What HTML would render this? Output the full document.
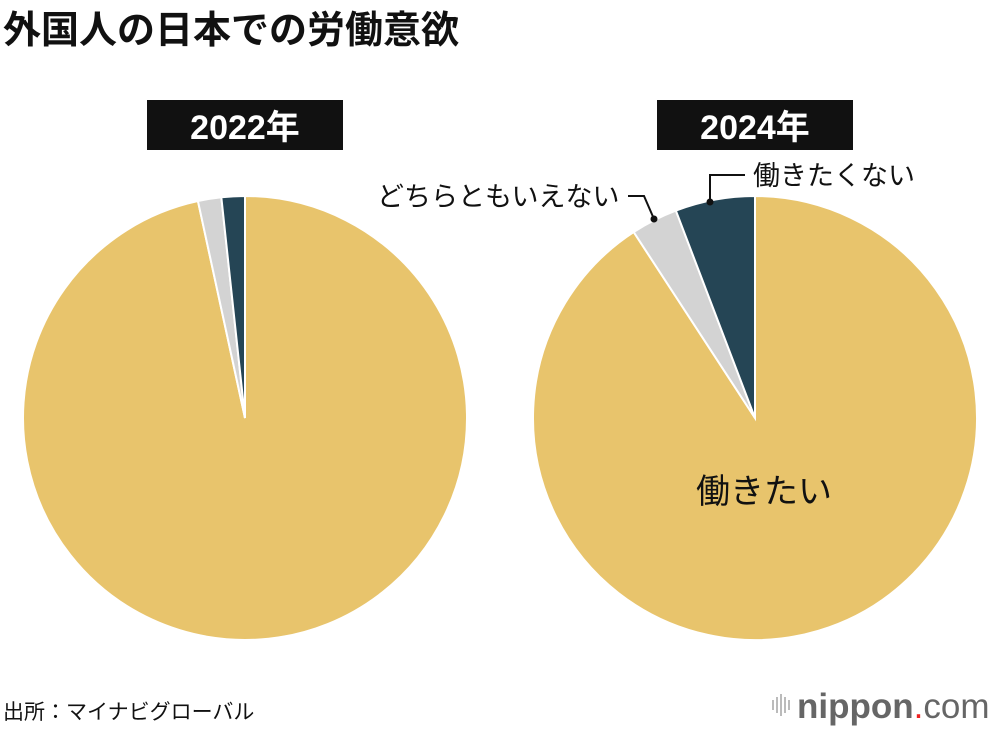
<!DOCTYPE html>
<html><head><meta charset="utf-8">
<style>
body{margin:0;width:1000px;height:730px;background:#fff;overflow:hidden;font-family:"Liberation Sans","Noto Sans CJK JP",sans-serif;}
svg{position:absolute;left:0;top:0}
</style></head>
<body>
<svg width="1000" height="730">
<text x="3" y="43" font-size="38" font-weight="bold" fill="#111" font-family="'Liberation Sans','Noto Sans CJK JP',sans-serif">外国人の日本での労働意欲</text>
<g id="pies"></g>
<rect x="147" y="100" width="196" height="50" fill="#111"/>
<text x="245" y="139" font-size="34" font-weight="bold" fill="#fff" text-anchor="middle" font-family="'Liberation Sans','Noto Sans CJK JP',sans-serif">2022年</text>
<rect x="657" y="100" width="196" height="50" fill="#111"/>
<text x="755" y="139" font-size="34" font-weight="bold" fill="#fff" text-anchor="middle" font-family="'Liberation Sans','Noto Sans CJK JP',sans-serif">2024年</text>
<text x="377" y="206" font-size="27" fill="#111" font-family="'Liberation Sans','Noto Sans CJK JP',sans-serif">どちらともいえない</text>
<polyline points="628,196 644,196 654,219" fill="none" stroke="#111" stroke-width="2"/>
<circle cx="654" cy="219" r="3.5" fill="#111"/>
<text x="753" y="185" font-size="27" fill="#111" font-family="'Liberation Sans','Noto Sans CJK JP',sans-serif">働きたくない</text>
<polyline points="745,175 710,175 710,202" fill="none" stroke="#111" stroke-width="2"/>
<circle cx="710" cy="202" r="3.5" fill="#111"/>
<text x="696" y="503" font-size="34" fill="#111" font-family="'Liberation Sans','Noto Sans CJK JP',sans-serif">働きたい</text>
<text x="3" y="719" font-size="21" fill="#111" font-family="'Liberation Sans','Noto Sans CJK JP',sans-serif">出所：マイナビグローバル</text>
<g>
<rect x="772" y="700" width="2" height="10" fill="#bbb"/><rect x="776" y="697" width="2" height="16" fill="#bbb"/><rect x="780" y="694" width="2" height="22" fill="#bbb"/><rect x="784" y="697" width="2" height="16" fill="#bbb"/><rect x="788" y="700" width="2" height="10" fill="#bbb"/>
<text x="797" y="718" font-size="35" fill="#666" font-weight="bold" font-family="'Liberation Sans',sans-serif">nippon<tspan fill="#e22" font-weight="normal">.</tspan><tspan font-weight="normal">com</tspan></text>
</g>
</svg>
<script>
const categories = ["働きたい","どちらともいえない","働きたくない"];
const years = ["2022","2024"];
const values2022 = [96.6, 1.7, 1.7];
const values2024 = [90.8, 3.4, 5.8];
const colors = ["#e8c46c","#d3d3d3","#254555"];
const g = document.getElementById('pies');
const NS = "http://www.w3.org/2000/svg";
function pie(vals, cx, cy, r, year){
  const total = vals.reduce((a,b)=>a+b,0);
  let a0 = 0;
  vals.forEach((v,i)=>{
    const a1 = a0 + v/total*2*Math.PI;
    const x0 = cx + r*Math.sin(a0), y0 = cy - r*Math.cos(a0);
    const x1 = cx + r*Math.sin(a1), y1 = cy - r*Math.cos(a1);
    const large = (a1-a0) > Math.PI ? 1 : 0;
    const p = document.createElementNS(NS,'path');
    p.setAttribute('d',`M${cx},${cy} L${x0},${y0} A${r},${r} 0 ${large} 1 ${x1},${y1} Z`);
    p.setAttribute('fill',colors[i]);
    p.setAttribute('stroke','#fff');
    p.setAttribute('stroke-width','2');
    
    
    g.appendChild(p);
    a0 = a1;
  });
}
pie(values2022, 245, 418, 222, years[0]);
pie(values2024, 755, 418, 222, years[1]);
</script>
</body></html>
